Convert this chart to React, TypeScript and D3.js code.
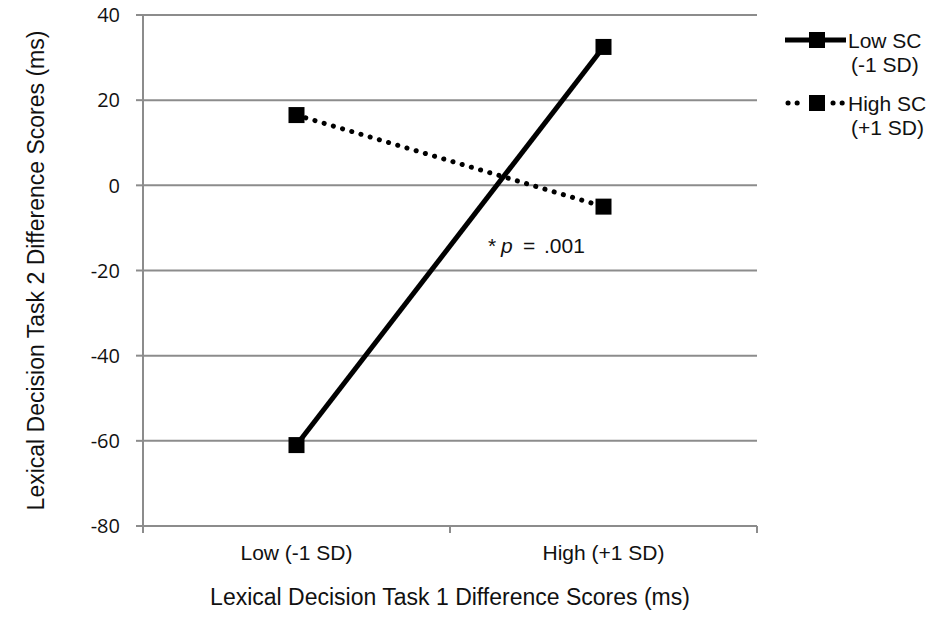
import React from 'react';
import * as d3 from 'd3';

const categories = ['Low (-1 SD)', 'High (+1 SD)'];
const lowSC = [-61, 32.5];
const highSC = [16.5, -5];
const yTicks = [40, 20, 0, -20, -40, -60, -80];

const W = 927, H = 617;
const margin = { top: 15, left: 143, right: 170, bottom: 91 };

export default function App() {
  const x = d3.scaleBand()
              .domain(categories)
              .range([margin.left, W - margin.right]);
  const y = d3.scaleLinear()
              .domain([-80, 40])
              .range([H - margin.bottom, margin.top]);

  const cx = (c) => x(c) + x.bandwidth() / 2;
  const line = d3.line()
                 .x((d, i) => cx(categories[i]))
                 .y((d) => y(d));

  const sans = 'Arial, "Liberation Sans", sans-serif';
  const num = '"Open Sans", "Liberation Sans", sans-serif';
  const grid = '#8c8c8c';
  const ink = '#111';
  const x0 = margin.left, x1 = W - margin.right;
  const yBottom = y(-80);

  // band edges for x ticks
  const xEdges = [x0, ...categories.map((c) => x(c) + x.bandwidth())];

  return (
    <svg width={W} height={H} style={{ position: 'absolute', left: 0, top: 0, background: '#fff' }}>
      {/* grid */}
      {yTicks.filter((t) => t !== -80).map((t) => (
        <line key={t} x1={x0} x2={x1} y1={y(t)} y2={y(t)} stroke={grid} strokeWidth={2} />
      ))}
      {/* y axis */}
      <line x1={x0} x2={x0} y1={y(40)} y2={yBottom} stroke={grid} strokeWidth={2} />
      {yTicks.map((t) => (
        <g key={'yt' + t}>
          <line x1={x0 - 7} x2={x0} y1={y(t)} y2={y(t)} stroke={grid} strokeWidth={2} />
          <text x={x0 - 23} y={y(t)} dy="0.36em" textAnchor="end"
                fontFamily={num} fontSize={20} fill={ink}>{t}</text>
        </g>
      ))}
      {/* x axis */}
      <line x1={x0} x2={x1} y1={yBottom} y2={yBottom} stroke={grid} strokeWidth={2} />
      {xEdges.map((e, i) => (
        <line key={'xt' + i} x1={e} x2={e} y1={yBottom} y2={yBottom + 7} stroke={grid} strokeWidth={2} />
      ))}
      {categories.map((c) => (
        <text key={c} x={cx(c)} y={560} textAnchor="middle"
              fontFamily={sans} fontSize={21} fill={ink}>{c}</text>
      ))}
      <text x={(x0 + x1) / 2} y={605} textAnchor="middle"
            fontFamily={sans} fontSize={23} fill={ink}>Lexical Decision Task 1 Difference Scores (ms)</text>
      <text transform={`translate(44,${(y(40) + yBottom) / 2}) rotate(-90)`} textAnchor="middle"
            fontFamily={sans} fontSize={23} fill={ink}>Lexical Decision Task 2 Difference Scores (ms)</text>

      {/* series */}
      <path d={line(highSC)} fill="none" stroke="#000" strokeWidth={5}
            strokeDasharray="0.1 9.5" strokeLinecap="round" />
      <path d={line(lowSC)} fill="none" stroke="#000" strokeWidth={5} />
      {[lowSC, highSC].map((s, si) => s.map((v, i) => (
        <rect key={si + '-' + i} x={cx(categories[i]) - 8} y={y(v) - 8} width={16} height={16} fill="#000" />
      )))}

      <text y={245} dy="0.36em" fontFamily={sans} fontSize={21} fill={ink}>
        <tspan x={488}>*</tspan>
        <tspan x={501} fontStyle="italic">p</tspan>
        <tspan x={523}>=</tspan>
        <tspan x={544}>.001</tspan>
      </text>

      {/* legend */}
      <line x1={785} x2={846} y1={40} y2={40} stroke="#000" strokeWidth={5} />
      <rect x={809} y={32} width={16} height={16} fill="#000" />
      <text x={848} y={40} dy="0.36em" fontFamily={sans} fontSize={21} fill={ink}>Low SC</text>
      <text x={851} y={64} dy="0.36em" fontFamily={sans} fontSize={21} fill={ink}>(-1 SD)</text>

      <path d="M788,103H798M833,103H843" fill="none" stroke="#000" strokeWidth={5}
            strokeDasharray="0.1 9" strokeLinecap="round" />
      <rect x={809} y={95} width={16} height={16} fill="#000" />
      <text x={848} y={103} dy="0.36em" fontFamily={sans} fontSize={21} fill={ink}>High SC</text>
      <text x={851} y={127} dy="0.36em" fontFamily={sans} fontSize={21} fill={ink}>(+1 SD)</text>
    </svg>
  );
}
